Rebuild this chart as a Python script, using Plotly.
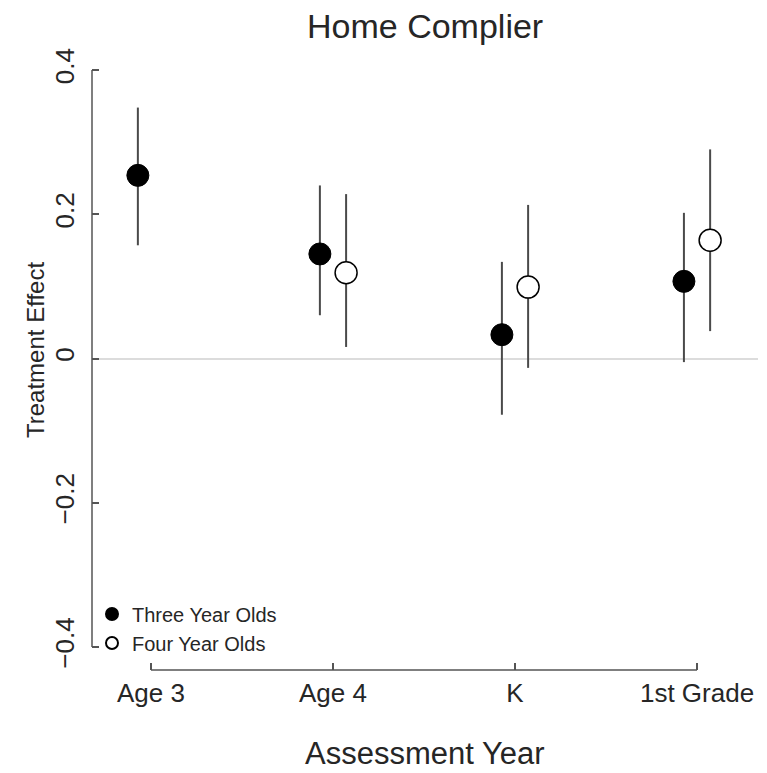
import plotly.graph_objects as go

# ---- data ----
categories = ["Age 3", "Age 4", "K", "1st Grade"]
y_tick_vals = [-0.4, -0.2, 0, 0.2, 0.4]
y_tick_text = ["\u22120.4", "\u22120.2", "0", "0.2", "0.4"]

three_est = [0.254, 0.145, 0.033, 0.107]
three_lo = [0.157, 0.060, -0.078, -0.005]
three_hi = [0.348, 0.240, 0.134, 0.202]

four_est = [None, 0.119, 0.099, 0.164]
four_lo = [None, 0.016, -0.013, 0.038]
four_hi = [None, 0.228, 0.213, 0.290]

# ---- style ----
FONT = "Liberation Sans"
TXT = "#262626"
AX = "#555555"
DODGE = 0.072
xpos = list(range(1, len(categories) + 1))


def err(est, lo, hi):
    up = [None if e is None else h - e for e, h in zip(est, hi)]
    dn = [None if e is None else e - l for e, l in zip(est, lo)]
    return up, dn


t_up, t_dn = err(three_est, three_lo, three_hi)
f_up, f_dn = err(four_est, four_lo, four_hi)

fig = go.Figure()
fig.add_trace(go.Scatter(
    x=[p - DODGE for p in xpos], y=three_est, mode="markers", name="Three Year Olds",
    marker=dict(size=22, color="black", line=dict(color="black", width=1)),
    error_y=dict(type="data", array=t_up, arrayminus=t_dn, width=0, thickness=2, color="#4a4a4a"),
))
fig.add_trace(go.Scatter(
    x=[p + DODGE for p in xpos], y=four_est, mode="markers", name="Four Year Olds",
    marker=dict(size=22, color="white", line=dict(color="black", width=1.5)),
    error_y=dict(type="data", array=f_up, arrayminus=f_dn, width=0, thickness=2, color="#4a4a4a"),
))

# axis lines (R style: span only the tick range)
fig.add_shape(type="line", xref="paper", yref="y", x0=0, x1=0, y0=-0.4, y1=0.4,
              line=dict(color=AX, width=1.5))
fig.add_shape(type="line", xref="x", yref="paper", x0=1, x1=4, y0=0, y1=0,
              line=dict(color=AX, width=1.5))

fig.update_layout(
    width=767, height=773,
    margin=dict(l=92, r=9, t=47, b=103, autoexpand=False),
    plot_bgcolor="white", paper_bgcolor="white",
    font=dict(family=FONT, color=TXT),
    showlegend=True,
    legend=dict(x=0.0, xanchor="left", y=0.012, yanchor="bottom",
                bgcolor="rgba(0,0,0,0)", font=dict(size=20, color=TXT, family=FONT),
                itemsizing="constant", tracegroupgap=0, itemwidth=30),
    xaxis=dict(range=[0.676, 4.335], tickvals=xpos, ticktext=categories,
               ticks="inside", ticklen=7, tickwidth=1.5, tickcolor=AX,
               showgrid=False, zeroline=False, showline=False,
               tickfont=dict(size=26, color=TXT), ticklabelstandoff=5),
    yaxis=dict(range=[-0.432, 0.432], tickvals=y_tick_vals, ticktext=y_tick_text,
               ticks="inside", ticklen=7, tickwidth=1.5, tickcolor=AX,
               showgrid=False, zeroline=True, zerolinecolor="#dcdcdc", zerolinewidth=2,
               showline=False, tickangle=-90,
               tickfont=dict(size=26, color=TXT), ticklabelstandoff=12),
    annotations=[
        dict(text="Home Complier", xref="paper", yref="paper", x=0.5, y=(670 - 26) / 623,
             showarrow=False, font=dict(size=34, color=TXT), xanchor="center", yanchor="middle"),
        dict(text="Assessment Year", xref="paper", yref="paper", x=0.5, y=(670 - 753) / 623,
             showarrow=False, font=dict(size=31, color=TXT), xanchor="center", yanchor="middle"),
        dict(text="Treatment Effect", xref="paper", yref="paper", x=(35 - 92) / 666, y=(670 - 350) / 623,
             showarrow=False, font=dict(size=24, color=TXT), xanchor="center", yanchor="middle",
             textangle=-90),
    ],
)

fig.write_html("out.html", config={"displayModeBar": False},
               post_script="document.body.style.margin='0';")
